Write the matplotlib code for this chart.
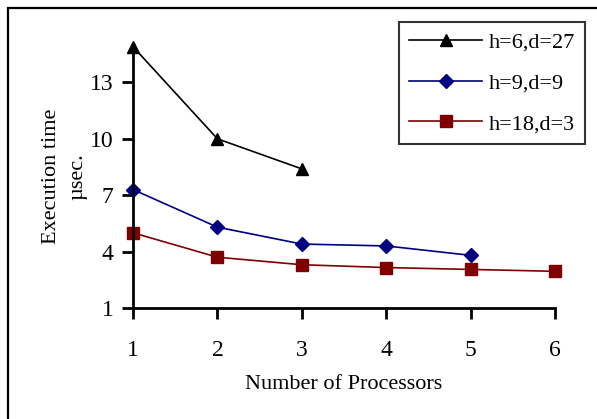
import matplotlib
matplotlib.use("Agg")
import matplotlib.pyplot as plt
from matplotlib.patches import Rectangle

plt.rcParams['font.family'] = ['Liberation Serif', 'DejaVu Serif']

# execution time (usec) against number of processors
procs_a = [1, 2, 3]
time_a = [14.9, 10.0, 8.4]          # h=6, d=27
procs_b = [1, 2, 3, 4, 5]
time_b = [7.3, 5.3, 4.4, 4.3, 3.8]  # h=9, d=9
procs_c = [1, 2, 3, 4, 5, 6]
time_c = [5.0, 3.7, 3.3, 3.15, 3.05, 2.95]  # h=18, d=3

labels = ['h=6,d=27', 'h=9,d=9', 'h=18,d=3']
y_ticks = [1, 4, 7, 10, 13]
x_ticks = [1, 2, 3, 4, 5, 6]

fig = plt.figure(figsize=(5.97, 4.19), dpi=100)
ax = fig.add_axes([0.2228, 0.265, 0.7068, 0.628])

# outer frame around the whole chart (open at right/bottom edge)
fig.patches.append(Rectangle((8 / 597, -0.1), 1.2, 1 - 8 / 419 + 0.1,
                             transform=fig.transFigure, fill=False,
                             edgecolor='black', linewidth=1.6))

ax.plot(procs_a, time_a, color='black', marker='^', markersize=9,
        linewidth=1.2, label=labels[0], clip_on=False)
ax.plot(procs_b, time_b, color='#000080', marker='D', markersize=7,
        linewidth=1.2, label=labels[1], clip_on=False)
ax.plot(procs_c, time_c, color='#800000', marker='s', markersize=8,
        linewidth=1.2, label=labels[2], clip_on=False)

ax.set_xlim(1, 6)
ax.set_ylim(1, 15)
ax.set_xticks(x_ticks)
ax.set_yticks(y_ticks)
ax.tick_params(direction='out', length=8, width=2, labelsize=17)
ax.tick_params(axis='y', pad=6)
ax.tick_params(axis='x', pad=15)

for side in ['top', 'right']:
    ax.spines[side].set_visible(False)
for side in ['left', 'bottom']:
    ax.spines[side].set_linewidth(2)

ax.set_xlabel('Number of Processors', fontsize=16, labelpad=10)
ax.set_ylabel('Execution time\n\u00b5sec.', fontsize=16, labelpad=2,
              linespacing=1.5)

leg = ax.legend(loc='upper right', bbox_to_anchor=(1.072, 1.085), fontsize=16,
                frameon=True, fancybox=False, edgecolor='black',
                handlelength=3.3, borderpad=0.45, labelspacing=0.9,
                handletextpad=0.3, borderaxespad=0)
leg.get_frame().set_linewidth(1.5)

fig.savefig('out.png', dpi=100)
